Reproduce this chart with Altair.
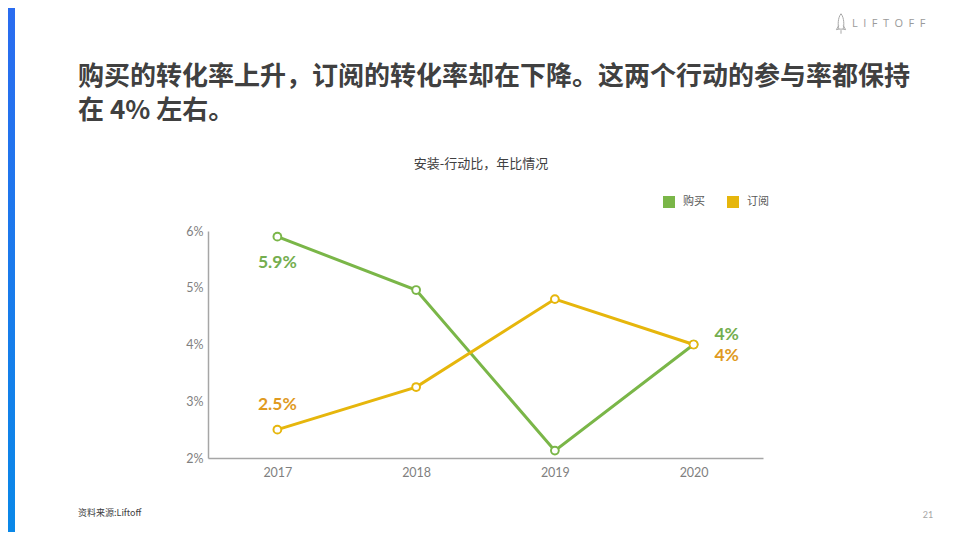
import altair as alt
import pandas as pd

# ---------------- data ----------------
years = ["2017", "2018", "2019", "2020"]
series_names = ["购买", "订阅"]
purchase = [5.9, 4.96, 2.13, 4.0]
subscribe = [2.5, 3.25, 4.8, 4.0]
y_ticks = [2, 3, 4, 5, 6]
series_colors = ["#7ab648", "#e6b60c"]
label_colors = ["#74ae4f", "#e09a1f"]

headline_lines = [
    "购买的转化率上升，订阅的转化率却在下降。这两个行动的参与率都保持",
    "在 4% 左右。",
]
chart_title = "安装-行动比，年比情况"
source_note = "资料来源:Liftoff"
page_number = "21"
brand = "\u2002".join("LIFTOFF")

rows = []
for name, vals in zip(series_names, [purchase, subscribe]):
    for yr, v in zip(years, vals):
        rows.append({"year": yr, "series": name, "value": v})
df = pd.DataFrame(rows)

# ---------------- layout helpers ----------------
W, H = 555, 227            # plot area
OX, OY = 208, 231          # plot origin on the page


def px(x):
    return x - OX


def py(y):
    return y - OY


CJK = "Noto Sans CJK SC"
LAT = "Lato"

x_enc = alt.X(
    "year:N",
    sort=years,
    scale=alt.Scale(type="point", padding=0.5),
    axis=alt.Axis(
        title=None, labelAngle=0, ticks=False, domainColor="#a6a6a6",
        domainWidth=1.5, labelColor="#7f7f7f", labelFontSize=12.5,
        labelPadding=8, labelFont=LAT,
    ),
)
y_enc = alt.Y(
    "value:Q",
    scale=alt.Scale(domain=[2, 6], nice=False, zero=False),
    axis=alt.Axis(
        title=None, values=y_ticks, labelExpr="datum.value + '%'",
        ticks=False, grid=False, domainColor="#a6a6a6", domainWidth=1.5,
        labelColor="#7f7f7f", labelFontSize=12.5, labelPadding=5, labelFont=LAT,
    ),
)

base = alt.Chart(df)

color_scale = alt.Scale(domain=series_names, range=series_colors)
color_enc = alt.Color("series:N", scale=color_scale, legend=alt.Legend(title=None))

lines = [
    base.transform_filter(alt.datum.series == s).mark_line(strokeWidth=3).encode(
        x=x_enc, y=y_enc, color=color_enc,
    )
    for s in series_names
]

outer_pts = base.mark_point(filled=True, size=95, opacity=1).encode(
    x=x_enc, y=y_enc, color=color_enc,
)
inner_pts = base.mark_point(filled=True, size=34, fill="white", opacity=1).encode(
    x=x_enc, y=y_enc,
)

labelled = base.transform_calculate(label="format(datum.value, '.2~r') + '%'")


def value_label(year, series, color, dx, dy):
    return labelled.transform_filter(
        (alt.datum.year == year) & (alt.datum.series == series)
    ).mark_text(
        dx=dx, dy=dy, color=color, fontSize=17.5, fontWeight="bold",
        font=LAT, align="center", baseline="middle",
    ).encode(x=x_enc, y=y_enc, text="label:N")


labels = [
    value_label("2017", series_names[0], label_colors[0], 0, 26),
    value_label("2017", series_names[1], label_colors[1], 0, -25),
    value_label("2020", series_names[0], label_colors[0], 33, -10),
    value_label("2020", series_names[1], label_colors[1], 33, 11),
]


def static_text(txt, x, y, size, color, font=CJK, weight="normal", align="left"):
    return alt.Chart(pd.DataFrame({"t": [txt]})).mark_text(
        fontSize=size, color=color, font=font, fontWeight=weight,
        align=align, baseline="middle",
    ).encode(text="t:N", x=alt.value(px(x)), y=alt.value(py(y)))


texts = [
    static_text(headline_lines[0], 78, 77, 26, "#404040", weight="bold"),
    static_text(headline_lines[1], 78, 111, 26, "#404040", weight="bold"),
    static_text(chart_title, 481, 164, 13, "#404040", align="center"),
    static_text(source_note, 78, 513, 9, "#404040"),
    static_text(page_number, 928, 515, 9, "#a6a6a6", font=LAT, align="center"),
    static_text(brand, 852, 24, 11, "#9a9a9a", font="Open Sans"),
]

side_bar = alt.Chart(pd.DataFrame({"a": [0]})).mark_rect(
    color=alt.LinearGradient(
        gradient="linear",
        stops=[
            alt.GradientStop(offset=0, color="#2a6cf0"),
            alt.GradientStop(offset=1, color="#0a88e8"),
        ],
        x1=0, x2=0, y1=0, y2=1,
    )
).encode(
    x=alt.value(px(8)), x2=alt.value(px(15)),
    y=alt.value(py(8)), y2=alt.value(py(532)),
)

rocket_path = (
    "M0,-1 C0.32,-0.6 0.32,0.15 0.2,0.5 L-0.2,0.5 C-0.32,0.15 -0.32,-0.6 0,-1 Z "
    "M-0.22,0.15 L-0.45,0.55 L-0.2,0.5 M0.22,0.15 L0.45,0.55 L0.2,0.5 "
    "M0,0.6 L0,0.95"
)
rocket = alt.Chart(pd.DataFrame({"a": [0]})).mark_point(
    shape=rocket_path, size=420, filled=False, color="#a8a8a8", strokeWidth=1,
    opacity=1,
).encode(x=alt.value(px(841)), y=alt.value(py(24)))

chart = alt.layer(
    side_bar, rocket, *texts, *lines, outer_pts, inner_pts, *labels
).properties(
    width=W, height=H,
    autosize=alt.AutoSizeParams(type="none"),
    padding={"left": OX - 8, "top": OY - 8, "right": 944 - (OX - 8) - W,
             "bottom": 524 - (OY - 8) - H},
    background="white",
).configure_view(stroke=None).configure_legend(
    orient="none", legendX=455, legendY=-35, direction="horizontal",
    symbolType="square", symbolSize=144,
    labelFontSize=11, labelColor="#595959", labelFont=CJK,
    columnPadding=22, labelOffset=8, symbolStrokeWidth=0,
)

chart.save("out.html", embed_options={"renderer": "svg", "actions": False})
